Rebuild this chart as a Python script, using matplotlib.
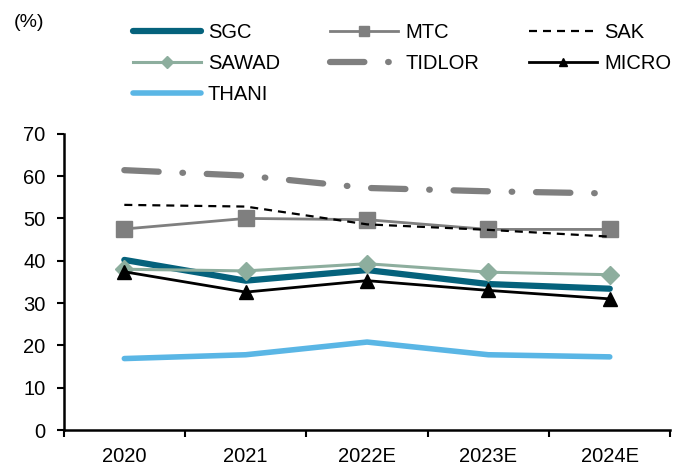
import matplotlib.pyplot as plt
from matplotlib.ticker import FixedLocator

plt.rcParams['font.family'] = ['Liberation Sans', 'DejaVu Sans']

years = ['2020', '2021', '2022E', '2023E', '2024E']
sgc = [40.2, 35.3, 37.8, 34.5, 33.4]
mtc = [47.5, 50.0, 49.7, 47.4, 47.4]
sak = [53.2, 52.8, 48.6, 47.3, 45.7]
sawad = [38.0, 37.6, 39.3, 37.3, 36.7]
tidlor = [61.4, 60.1, 57.2, 56.4, 55.9]
micro = [37.4, 32.6, 35.3, 33.0, 31.0]
thani = [16.9, 17.8, 20.8, 17.8, 17.3]

x = list(range(len(years)))

fig = plt.figure(figsize=(6.88, 4.66), dpi=100)
ax = fig.add_axes([0.0925, 0.077, 0.882, 0.636])

h_sgc, = ax.plot(x, sgc, color='#05627c', lw=4.5, label='SGC', solid_capstyle='round')
h_mtc, = ax.plot(x, mtc, color='#7f7f7f', lw=2, marker='s', ms=12, label='MTC')
h_sak, = ax.plot(x, sak, color='black', lw=1.6, ls=(0, (3.6, 2.7)), label='SAK')
h_sawad, = ax.plot(x, sawad, color='#8dae9e', lw=2.2, marker='D', ms=9.5, label='SAWAD')
h_tidlor, = ax.plot(x, tidlor, color='#7f7f7f', lw=4.5, ls=(0, (5.5, 3.8, 0.1, 3.8)),
                    dash_capstyle='round', label='TIDLOR')
h_micro, = ax.plot(x, micro, color='black', lw=2, marker='^', ms=10, label='MICRO')
h_thani, = ax.plot(x, thani, color='#5ab6e5', lw=4, label='THANI', solid_capstyle='round')

ax.set_xlim(-0.5, 4.5)
ax.set_ylim(0, 70)
ax.set_yticks(range(0, 71, 10))
ax.set_xticks(x)
ax.set_xticklabels(years)
ax.xaxis.set_minor_locator(FixedLocator([-0.5, 0.5, 1.5, 2.5, 3.5, 4.5]))
ax.tick_params(axis='x', which='major', length=0, labelsize=14.5, pad=12)
ax.tick_params(axis='x', which='minor', length=5, width=1.5, direction='out')
ax.tick_params(axis='y', length=5, width=1.5, labelsize=14.5, pad=8)
for s in ['top', 'right']:
    ax.spines[s].set_visible(False)
for s in ['left', 'bottom']:
    ax.spines[s].set_linewidth(1.8)

# column-major order so rows read SGC/MTC/SAK, SAWAD/TIDLOR/MICRO, THANI
handles = [h_sgc, h_sawad, h_thani, h_mtc, h_tidlor, h_sak, h_micro]
fig.legend(handles=handles, labels=[h.get_label() for h in handles], ncol=3,
           loc='upper left', bbox_to_anchor=(0.193, 0.95), frameon=False,
           fontsize=14.5, handlelength=3.37, columnspacing=2.5, labelspacing=0.6,
           handletextpad=0.35, borderpad=0, borderaxespad=0, markerscale=0.62)

fig.text(0.02, 0.952, '(%)', fontsize=14, va='center')

fig.savefig('out.png', dpi=100)
plt.close(fig)
